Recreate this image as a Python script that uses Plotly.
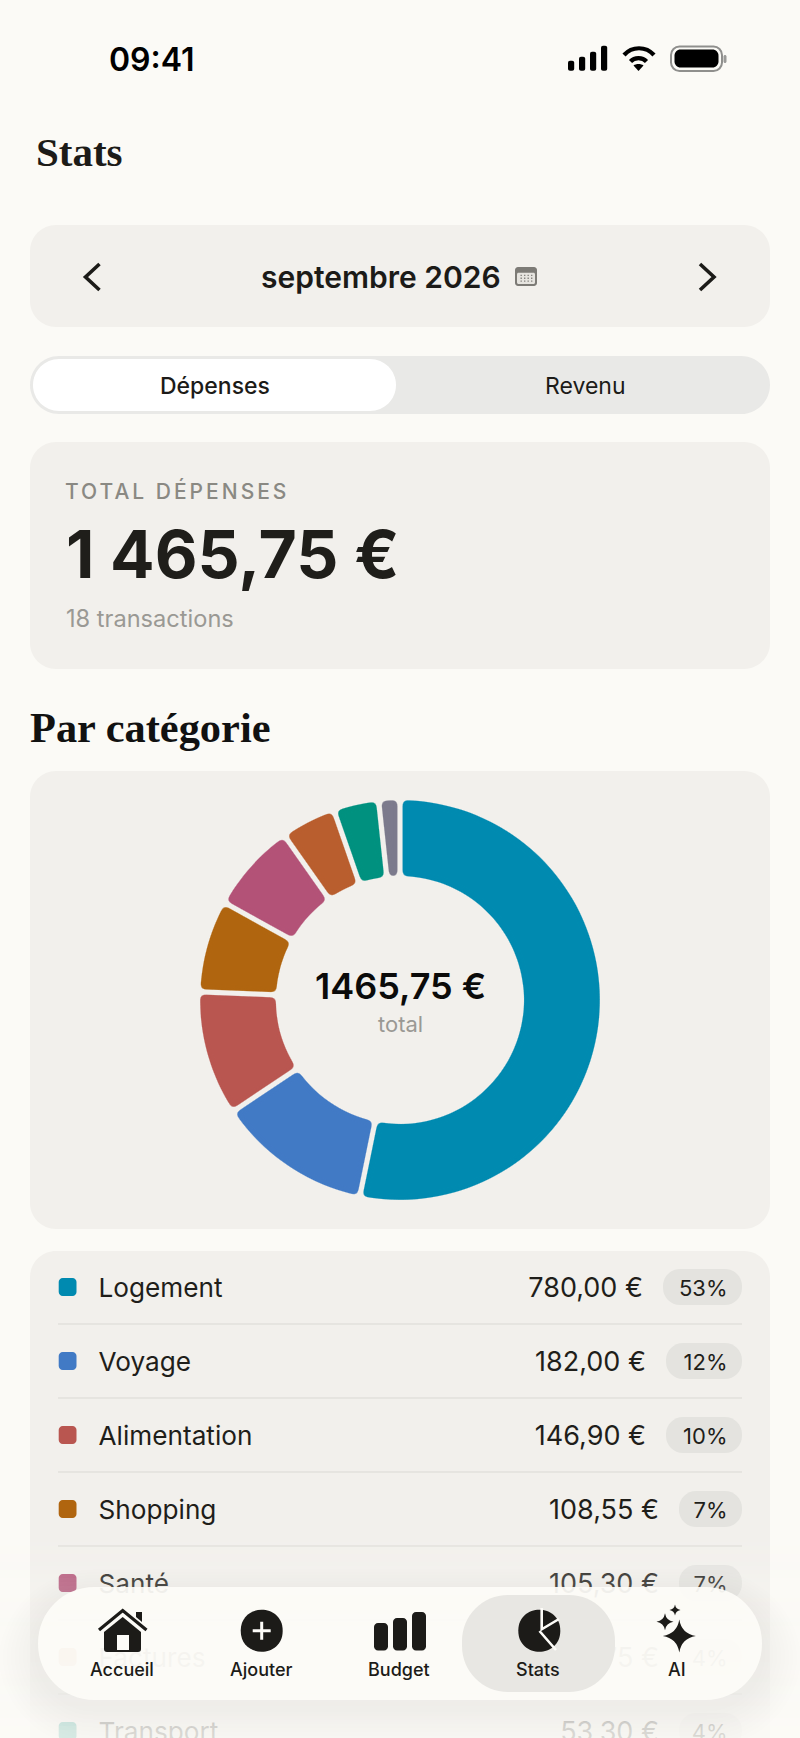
import plotly.graph_objects as go

# ---------- data ----------
categories = ["Logement", "Voyage", "Alimentation", "Shopping", "Santé", "Factures", "Transport", "Autres"]
amounts = [780.00, 182.00, 146.90, 108.55, 105.30, 64.75, 53.30, 24.95]
amount_labels = ["780,00 €", "182,00 €", "146,90 €", "108,55 €", "105,30 €", "64,75 €", "53,30 €", "24,95 €"]
pct_labels = ["53%", "12%", "10%", "7%", "7%", "4%", "4%", "2%"]
colors = ["#008AB0", "#417AC5", "#B95650", "#B0650F", "#B35277", "#B95E2E", "#00917F", "#7C7A8C"]
nav_labels = ["Accueil", "Ajouter", "Budget", "Stats", "AI"]
nav_x = [122, 261, 399, 538, 677]

BG, CARD, INK = "#FBFAF6", "#F2F0EC", "#1C1B18"
SANS, SERIF = "Inter", "Liberation Serif"
W, H = 800, 1738
K = 0.5523
CR = 770


def rr(x0, y0, x1, y1, r):
    c = r * (1 - K)
    return (f"M{x0+r},{y0} L{x1-r},{y0} C{x1-c},{y0} {x1},{y0+c} {x1},{y0+r} "
            f"L{x1},{y1-r} C{x1},{y1-c} {x1-c},{y1} {x1-r},{y1} "
            f"L{x0+r},{y1} C{x0+c},{y1} {x0},{y1-c} {x0},{y1-r} "
            f"L{x0},{y0+r} C{x0},{y0+c} {x0+c},{y0} {x0+r},{y0} Z")


shapes = []


def fill(path, color, layer="below"):
    shapes.append(dict(type="path", path=path, fillcolor=color, line=dict(width=0), layer=layer))


def stroke(path, color, w, layer="below"):
    shapes.append(dict(type="path", path=path, line=dict(color=color, width=w), layer=layer))


def box(x0, y0, x1, y1, r, color, layer="below"):
    fill(rr(x0, y0, x1, y1, r), color, layer)


def star(cx, cy, h):
    return (f"M{cx},{cy-h} Q{cx+h*.14},{cy-h*.14} {cx+h},{cy} Q{cx+h*.14},{cy+h*.14} {cx},{cy+h} "
            f"Q{cx-h*.14},{cy+h*.14} {cx-h},{cy} Q{cx-h*.14},{cy-h*.14} {cx},{cy-h} Z")


anns = []


def label(x, y, text, size, color=INK, weight=400, anchor="left", family=SANS):
    anns.append(dict(x=x, y=y, text=text, xref="x", yref="y", showarrow=False, xanchor=anchor, yanchor="middle",
                     borderpad=0, font=dict(family=family, size=size, color=color, weight=weight)))


# ---------- cards ----------
box(30, 225, CR, 327, 26, CARD)
box(30, 356, CR, 414, 29, "#E9E9E7")
box(33, 359, 396, 411, 26, "#FFFFFF")
box(30, 442, CR, 669, 26, CARD)
box(30, 771, CR, 1229, 26, CARD)
box(30, 1251, CR, 1790, 26, CARD)

# ---------- status bar ----------
for x0, top in zip([568, 579, 590, 601], [60.7, 56.7, 51.7, 45.7]):
    box(x0, top, x0 + 6.2, 70.7, 2, "#000000")
stroke("M624,55 C632,46 646,46 654,55", "#000000", 4.2)
stroke("M630.5,61.5 C634.5,57 642.5,57 646.5,61.5", "#000000", 4.2)
fill("M633.5,65.5 C636,63.5 641,63.5 643.5,65.5 L638.5,71 Z", "#000000")
shapes.append(dict(type="path", path=rr(671, 46.5, 722, 71, 8.5), line=dict(color="#8F8F8D", width=2), layer="below"))
box(674.5, 49.5, 718.5, 67.5, 6, "#000000")
box(723.5, 55, 726.5, 63, 1.5, "#9A9A98")

# ---------- month selector ----------
stroke("M99.5,264 L85.5,277 L99.5,290", INK, 3.6)
stroke("M700,264 L714,277 L700,290", INK, 3.6)
box(515, 267, 537, 286, 3, "#7D7B76")
box(517, 272.7, 535, 284, 1.5, "#E6E4DF")
for dx in range(4):
    for dy in range(3):
        box(520.5 + dx * 3.5, 274.7 + dy * 2.9, 521.9 + dx * 3.5, 276 + dy * 2.9, 0.2, "#85837E")

label(108, 59, "09:41", 32, "#000000", 600)
label(35, 152, "Stats", 41, INK, 700, family=SERIF)
label(380.5, 276.5, "septembre 2026", 30, INK, 600, "center")
label(215, 385.5, "Dépenses", 23, INK, 500, "center")
label(585, 385.5, "Revenu", 23, INK, 400, "center")
label(85, 491, "TOTAL DÉPENSES", 21, "#8A8983", 500)
label(65, 553.5, "1 465,75 €", 66, "#1F1E1A", 650)
label(65, 618, "18 transactions", 23.6, "#9A9994", 400)
label(28.5, 727, "Par catégorie", 42.4, "#111111", 700, family=SERIF)
label(400, 985.5, "1465,75 €", 36, "#0B0B0A", 600, "center")
label(400, 1024, "total", 22, "#9A9994", 400, "center")

# ---------- legend rows ----------
n_rows = 7
rows_y = [1287 + 74 * i for i in range(n_rows)]
text_y = [y + 3 for y in rows_y]
pct_right = 727.5
names_x, vals_x, pct_x = [], [], []
for i in range(n_rows):
    y = rows_y[i]
    pw = 63 if len(pct_labels[i]) == 2 else 76
    if i == 0:
        pw = 79
    pl = 742 - pw
    box(58.7, y - 9, 76.5, y + 9, 4, colors[i], "between")
    box(pl, y - 18, 742, y + 18, 17, "#E4E3DF", "between")
    if i < n_rows - 1:
        shapes.append(dict(type="line", x0=58, x1=742, y0=y + 37, y1=y + 37, line=dict(color="#DAD9D4", width=1), layer="between"))
    names_x.append(98.5)
    vals_x.append(pl - 20)
    pct_x.append(pct_right)

# ---------- bottom fade, shadow, nav ----------
for y0 in range(1530, 1738, 4):
    a = min(0.86, max(0, (y0 - 1530) / 200 * 0.86))
    shapes.append(dict(type="rect", x0=0, x1=W, y0=y0, y1=y0 + 4, fillcolor=f"rgba(251,250,246,{a:.3f})", line=dict(width=0), layer="above"))
for e in range(40, 0, -4):
    box(38 - e, 1597 - e * 0.7, 762 + e, 1708 + e, 56 + e, "rgba(40,36,30,0.005)", "above")
box(38, 1587, 762, 1700, 56, "rgba(253,252,248,0.93)", "above")
box(462, 1595, 615, 1692, 46, "#E8E7E3", "above")

# home
stroke("M99,1630 L122.7,1610.5 L146.5,1630", INK, 3.2, "above")
fill("M136,1612 L142,1612 L142,1622 L136,1617 Z", INK, "above")
fill("M122.7,1617 L141,1632 L141,1649 Q141,1652 138,1652 L107,1652 Q104,1652 104,1649 L104,1632 Z", INK, "above")
fill("M117,1635 L129,1635 L129,1650 L117,1650 Z", "#FDFCF8", "above")
# add
fill("M240.7,1630.7 C240.7,1602.7 282.7,1602.7 282.7,1630.7 C282.7,1658.7 240.7,1658.7 240.7,1630.7 Z", INK, "above")
stroke("M252.7,1630.7 L270.7,1630.7 M261.7,1621.7 L261.7,1639.7", "#FDFCF8", 3, "above")
# budget
for x0, top in zip([374, 393, 412], [1623, 1618, 1612]):
    box(x0, top, x0 + 14, 1650.5, 4, INK, "above")
# stats
fill("M518.3,1630.7 C518.3,1602.7 560.3,1602.7 560.3,1630.7 C560.3,1658.7 518.3,1658.7 518.3,1630.7 Z", INK, "above")
stroke("M541.7,1608 L541.7,1629.3 L559,1619 M539.5,1631 L556,1650", "#FDFCF8", 2.6, "above")
# ai
fill(star(679.3, 1636, 16.5), INK, "above")
fill(star(665, 1621.7, 8.5), INK, "above")
fill(star(675, 1610, 5.5), INK, "above")

for x, t in zip(nav_x, nav_labels):
    label(x, 1669, t, 18, INK, 500, "center")

# ---------- traces ----------
R = 202.5
donut = go.Pie(
    labels=categories, values=amounts, sort=False, direction="clockwise", rotation=0,
    hole=0.6, textinfo="none", showlegend=False, hoverinfo="skip",
    marker=dict(colors=colors, line=dict(width=0)),
    domain=dict(x=[(400 - R) / W, (400 + R) / W], y=[(H - 1000 - R) / H, (H - 1000 + R) / H]),
)


def rows_text(x, texts, pos, size):
    return go.Scatter(x=x, y=text_y, text=texts, mode="text", textposition=pos, cliponaxis=False,
                      showlegend=False, hoverinfo="skip", textfont=dict(family=SANS, size=size, color="#1F1E1A"))


traces = [donut,
          rows_text(names_x, categories[:n_rows], "middle right", 26.2),
          rows_text(vals_x, amount_labels[:n_rows], "middle left", 27),
          rows_text(pct_x, pct_labels[:n_rows], "middle left", 22)]

fig = go.Figure(traces)
fig.update_layout(
    width=W, height=H, margin=dict(l=0, r=0, t=0, b=0), paper_bgcolor=BG, plot_bgcolor=BG,
    xaxis=dict(range=[0, W], visible=False, fixedrange=True),
    yaxis=dict(range=[H, 0], visible=False, fixedrange=True),
    shapes=shapes, annotations=anns, hovermode=False,
)

post = """
var ns='http://www.w3.org/2000/svg';
var s=document.createElementNS(ns,'svg');s.setAttribute('width','0');s.setAttribute('height','0');
s.style.position='absolute';
s.innerHTML='<filter id="rnd" x="-15%" y="-15%" width="130%" height="130%" color-interpolation-filters="sRGB">'+
 '<feGaussianBlur stdDeviation="3.5"/><feComponentTransfer><feFuncA type="linear" slope="10" intercept="-7.12"/></feComponentTransfer></filter>';
document.body.appendChild(s);
document.querySelectorAll('.slice path.surface').forEach(function(p){p.setAttribute('filter','url(#rnd)');});
document.querySelectorAll('.annotation-text').forEach(function(t){
 if(t.textContent.indexOf('TOTAL')===0){t.style.letterSpacing='3px';}
});
document.body.style.margin='0';
"""
fig.write_html("out.html", post_script=post, config=dict(displayModeBar=False, staticPlot=True))
